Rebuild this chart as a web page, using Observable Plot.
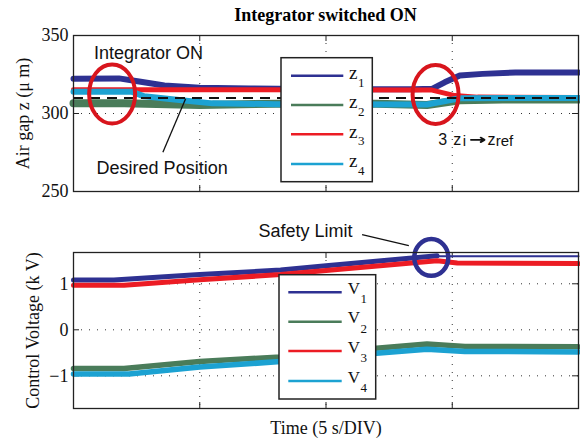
<!DOCTYPE html>
<html><head><meta charset="utf-8">
<script src="https://cdn.jsdelivr.net/npm/d3@7"></script>
<script src="https://cdn.jsdelivr.net/npm/@observablehq/plot@0.6"></script>
<style>
body{margin:0;background:#fff;}
#wrap{position:relative;width:580px;height:440px;overflow:hidden;background:#fff;}
#title{position:absolute;top:3px;left:73px;width:505px;text-align:center;font:bold 18px "Liberation Serif","Times New Roman",serif;line-height:24px;z-index:3;}
.panel{position:absolute;left:0;}
</style></head><body>
<div id="wrap"><div id="title">Integrator switched ON</div></div>
<script>
// ---------- Top panel: air gap (µm) vs time (s) ----------
const zTime1 = [0, 1.8, 2.6, 3.6, 5, 7, 10, 13.5, 14.2, 14.7, 15.3, 16.2, 17.5, 20];
const z1     = [322.3, 322.5, 320.5, 318, 316.5, 316, 315.6, 315.6, 315.8, 320, 324.4, 325.4, 326.3, 326.3];
const zTime2 = [0, 2, 5, 8, 12, 14, 15.3, 17, 20];
const z2     = [306.5, 306.5, 305.5, 306.3, 306.3, 305.5, 308.5, 309, 309];
const zTime3 = [0, 14.2, 15.1, 16, 20];
const z3     = [315.3, 315.0, 311.5, 310.5, 310.3];
const zTime4 = [0, 2.3, 2.8, 4, 5.5, 8, 14, 15.3, 20];
const z4     = [314, 314, 311, 309, 306.5, 306, 305.8, 309.8, 310];
const zRef = 310;
const zTicks = [250, 300, 350];
const timeGrid = [5, 10, 15];
const zNames = ["z1", "z2", "z3", "z4"];

// ---------- Bottom panel: control voltage (kV) vs time (s) ----------
const vTime1 = [0, 1.6, 5, 8.2, 10, 14.4];
const v1     = [1.08, 1.08, 1.20, 1.30, 1.39, 1.61];
const vLimitTime = [14.4, 20];
const vLimit     = [1.6, 1.6];
const vTime2 = [0, 2, 5, 8.2, 12, 14, 15.5, 20];
const v2     = [-0.84, -0.84, -0.69, -0.59, -0.40, -0.31, -0.36, -0.37];
const vTime3 = [0, 2, 5, 8.2, 10, 14.4, 15.2, 20];
const v3     = [0.97, 0.97, 1.09, 1.20, 1.29, 1.50, 1.45, 1.44];
const vTime4 = [0, 2.2, 5, 8.2, 12, 14, 15.5, 20];
const v4     = [-0.96, -0.96, -0.81, -0.69, -0.51, -0.42, -0.47, -0.48];
const vTicks = [-1, 0, 1];
const vNames = ["V1", "V2", "V3", "V4"];

const colors = ["#2e3192", "#4a7c5a", "#ec1c24", "#1ca2d2"];

// ---------- helpers ----------
const serif = '"Liberation Serif","Times New Roman",serif';
const sans = '"Liberation Sans",Arial,Helvetica,sans-serif';
const rows = (ts, vs) => ts.map((t, i) => ({t, v: vs[i]}));
const ellipse = (rx, ry) => ({draw(ctx) {
  const k = 0.5523;
  ctx.moveTo(rx, 0);
  ctx.bezierCurveTo(rx, k*ry, k*rx, ry, 0, ry);
  ctx.bezierCurveTo(-k*rx, ry, -rx, k*ry, -rx, 0);
  ctx.bezierCurveTo(-rx, -k*ry, -k*rx, -ry, 0, -ry);
  ctx.bezierCurveTo(k*rx, -ry, rx, -k*ry, rx, 0);
  ctx.closePath();
}});

const frameMarks = (yGrid, innerW, innerH) => [
  Plot.gridX(timeGrid, {stroke: "#333", strokeOpacity: 1, strokeDasharray: "1,7"}),
  Plot.gridY(yGrid, {stroke: "#333", strokeOpacity: 1, strokeDasharray: "1,7"}),
  Plot.tickX(timeGrid, {x: d => d, insetBottom: innerH - 6, stroke: "#222"}),
  Plot.tickX(timeGrid, {x: d => d, insetTop: innerH - 6, stroke: "#222"}),
  Plot.tickY(yGrid, {y: d => d, insetRight: innerW - 6, stroke: "#222"}),
  Plot.tickY(yGrid, {y: d => d, insetLeft: innerW - 6, stroke: "#222"})
];

const wrap = document.getElementById("wrap");

// ---------- top chart ----------
const zSeries = [rows(zTime1, z1), rows(zTime2, z2), rows(zTime3, z3), rows(zTime4, z4)];
const zWidths = [6, 8, 5, 6];
const topChart = Plot.plot({
  width: 580, height: 200,
  marginTop: 35, marginBottom: 9, marginLeft: 73, marginRight: 2,
  style: {fontFamily: serif, fontSize: "18px", background: "transparent", color: "#111", overflow: "visible"},
  x: {domain: [0, 20], axis: null},
  y: {domain: [250, 350]},
  marks: [
    ...frameMarks([300], 505, 156),
    ...zSeries.map((d, i) => Plot.line(d, {x: "t", y: "v", stroke: colors[i], strokeWidth: zWidths[i]})),
    Plot.ruleY([zRef], {stroke: "#111", strokeWidth: 2, strokeDasharray: "10,7"}),
    Plot.dot([{t: 1.53, v: 312.5}, {t: 14.34, v: 312.2}], {x: "t", y: "v", r: 5, symbol: ellipse(23, 29.5), fill: "none", stroke: "#d8151d", strokeWidth: 4}),
    Plot.link([{t1: 3.54, v1: 275.2, t2: 4.44, v2: 309.4}], {x1: "t1", y1: "v1", x2: "t2", y2: "v2", stroke: "#111", strokeWidth: 1.3}),
    Plot.text([{t: 2.97, v: 335.1, s: "Integrator ON"}, {t: 3.51, v: 261.3, s: "Desired Position"}], {x: "t", y: "v", text: "s", fontFamily: sans, fontSize: 18, lineAnchor: "bottom", fill: "#111"}),
    Plot.text([{t: 14.45, v: 280.1, s: "3"}, {t: 15.04, v: 280.1, s: "z"}, {t: 16.40, v: 280.1, s: "z"}], {x: "t", y: "v", text: "s", fontFamily: sans, fontSize: 16, lineAnchor: "bottom", textAnchor: "start", fill: "#111"}),
    Plot.text([{t: 15.42, v: 278.9, s: "i"}, {t: 16.72, v: 278.9, s: "ref"}], {x: "t", y: "v", text: "s", fontFamily: sans, fontSize: 15, lineAnchor: "bottom", textAnchor: "start", fill: "#111"}),
    Plot.arrow([{t1: 15.74, t2: 16.28, v: 283.1}], {x1: "t1", x2: "t2", y1: "v", y2: "v", stroke: "#111", strokeWidth: 1.8, headLength: 7}),
    Plot.axisY(zTicks, {tickSize: 0, tickPadding: 5, label: null, fontSize: 18}),
    Plot.text(["Air gap z (\u03bc m)"], {frameAnchor: "left", rotate: -90, dx: -44.7, textAnchor: "middle", lineAnchor: "bottom", fontSize: 18, fill: "#111"}),
    Plot.frame({stroke: "#222", strokeWidth: 1.3})
  ]
});
topChart.classList.add("panel");
topChart.style.top = "0px";
wrap.appendChild(topChart);

// ---------- bottom chart ----------
const vSeries = [rows(vTime1, v1), rows(vTime2, v2), rows(vTime3, v3), rows(vTime4, v4)];
const vWidths = [5, 5.5, 5, 5.5];
const botChart = Plot.plot({
  width: 580, height: 240,
  marginTop: 52, marginBottom: 32, marginLeft: 73, marginRight: 2,
  style: {fontFamily: serif, fontSize: "18px", background: "transparent", color: "#111", overflow: "visible"},
  x: {domain: [0, 20], axis: null},
  y: {domain: [-1.71, 1.68]},
  marks: [
    ...frameMarks(vTicks, 505, 156),
    Plot.line(rows(vLimitTime, vLimit), {x: "t", y: "v", stroke: colors[0], strokeWidth: 2}),
    ...vSeries.map((d, i) => Plot.line(d, {x: "t", y: "v", stroke: colors[i], strokeWidth: vWidths[i]})),
    Plot.dot([{t: 14.17, v: 1.572}], {x: "t", y: "v", r: 5, symbol: ellipse(17, 18.4), fill: "none", stroke: "#2e3192", strokeWidth: 4.5}),
    Plot.link([{t1: 11.43, v1: 2.07, t2: 13.28, v2: 1.83}], {x1: "t1", y1: "v1", x2: "t2", y2: "v2", stroke: "#111", strokeWidth: 1.3}),
    Plot.text([{t: 9.19, v: 2.013, s: "Safety Limit"}], {x: "t", y: "v", text: "s", fontFamily: sans, fontSize: 18, lineAnchor: "bottom", fill: "#111"}),
    Plot.axisY(vTicks, {tickSize: 0, tickPadding: 5, label: null, fontSize: 18}),
    Plot.text(["Control Voltage (k V)"], {frameAnchor: "left", rotate: -90, dx: -34.3, textAnchor: "middle", lineAnchor: "bottom", fontSize: 18, fill: "#111"}),
    Plot.text(["Time (5 s/DIV)"], {frameAnchor: "bottom", dy: 25.3, textAnchor: "middle", lineAnchor: "bottom", fontSize: 18, fill: "#111"}),
    Plot.frame({stroke: "#222", strokeWidth: 1.3})
  ]
});
botChart.classList.add("panel");
botChart.style.top = "200px";
wrap.appendChild(botChart);

// ---------- in-plot legends (overlay) ----------
const overlay = d3.create("svg")
  .attr("width", 580).attr("height", 440)
  .style("position", "absolute").style("left", "0px").style("top", "0px")
  .style("pointer-events", "none");
function legend(box, lineX1, lineX2, ys, names, glyphX, subX, glyphSize, glyphDy, subDy) {
  const g = overlay.append("g");
  g.append("rect").attr("x", box[0]).attr("y", box[1]).attr("width", box[2]).attr("height", box[3])
    .attr("fill", "#fff").attr("stroke", "#222").attr("stroke-width", 1.5);
  names.forEach((n, i) => {
    g.append("line").attr("x1", lineX1).attr("x2", lineX2).attr("y1", ys[i]).attr("y2", ys[i])
      .attr("stroke", colors[i]).attr("stroke-width", 2.5);
    g.append("text").attr("x", glyphX).attr("y", ys[i] + glyphDy)
      .attr("font-family", serif).attr("font-size", glyphSize).attr("fill", "#111").text(n[0]);
    g.append("text").attr("x", subX).attr("y", ys[i] + subDy)
      .attr("font-family", serif).attr("font-size", 13).attr("fill", "#111").text(n.slice(1));
  });
}
legend([281, 57.7, 91.3, 124], 291, 343.3, [75.7, 105, 134.3, 164], zNames, 349, 358, 19, 3.3, 11);
legend([279, 274.7, 96.7, 124.3], 288.3, 341.7, [292.3, 321.7, 351, 381], vNames, 347.7, 360.5, 17, 1.7, 11);
wrap.appendChild(overlay.node());
</script>
</body></html>
